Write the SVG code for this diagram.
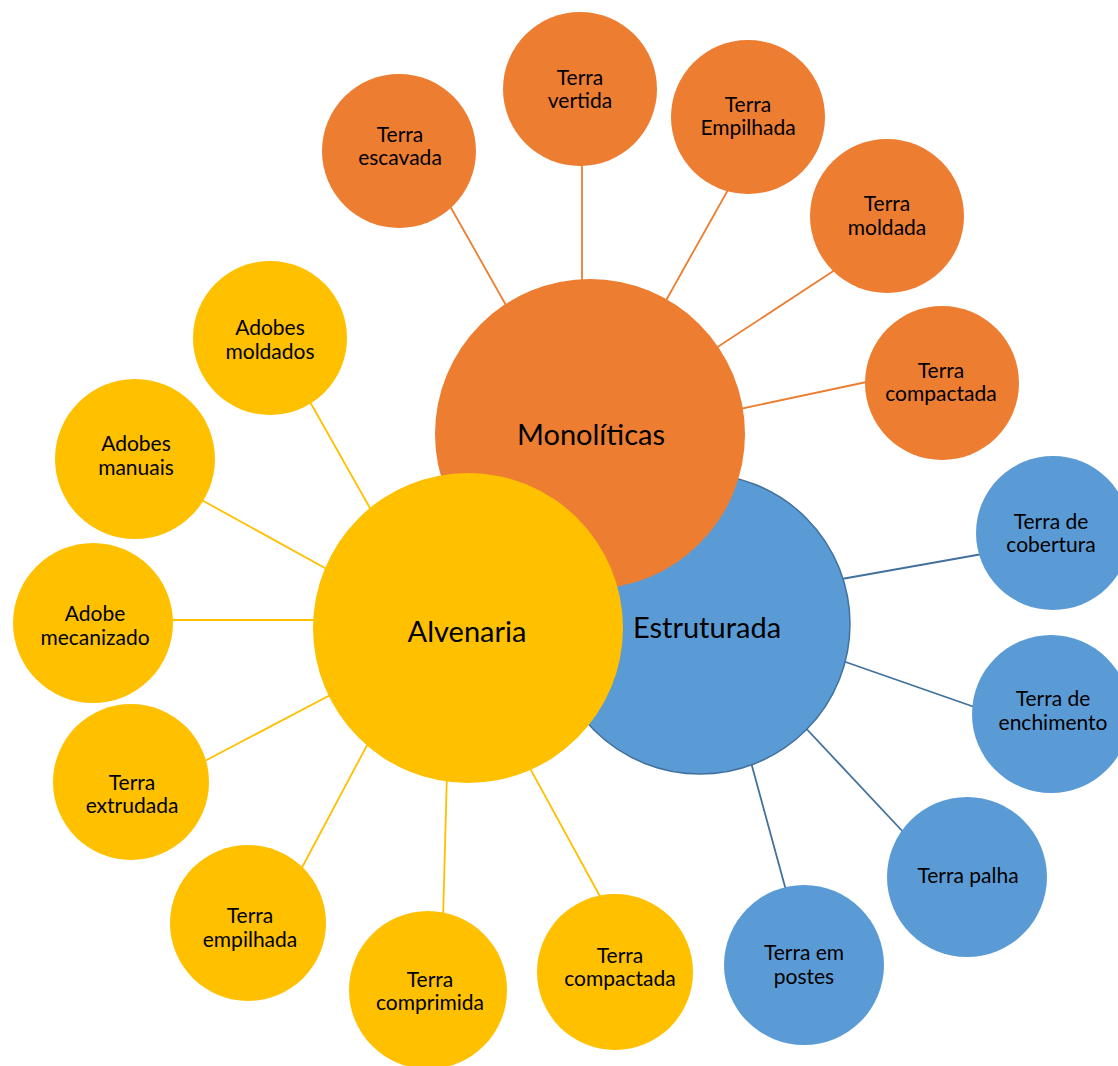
<svg xmlns="http://www.w3.org/2000/svg" width="1118" height="1066" viewBox="0 0 1118 1066">
  <style>
    .orange { fill: #ED7D31; }
    .yellow { fill: #FFC000; }
    .blue { fill: #5B9BD5; }
    .hub-blue { fill: #5B9BD5; stroke: #41719C; stroke-width: 1.5; }
    .lbl { font-family: Lato, "Open Sans", "Liberation Sans", sans-serif; font-size: 21px; fill: #000; text-anchor: middle; }
    .hub { font-family: Lato, "Open Sans", "Liberation Sans", sans-serif; font-size: 29px; fill: #000; text-anchor: middle; }
    .c-orange { stroke: #ED7D31; stroke-width: 1.8; }
    .c-yellow { stroke: #FFC000; stroke-width: 1.8; }
    .c-blue { stroke: #41719C; stroke-width: 1.8; }
  </style>
  <rect width="1118" height="1066" fill="#ffffff"/>

  <!-- spokes between hubs and leaf circles (ends tucked under the circles) -->
  <g id="connectors" fill="none">
    <line class="c-orange" x1="450" y1="206" x2="507" y2="307"/>
    <line class="c-orange" x1="582" y1="155" x2="582" y2="285"/>
    <line class="c-orange" x1="733" y1="181" x2="664" y2="304"/>
    <line class="c-orange" x1="841" y1="266" x2="713" y2="350"/>
    <line class="c-orange" x1="876" y1="380" x2="735" y2="410"/>

    <line class="c-yellow" x1="305" y1="393" x2="375" y2="517"/>
    <line class="c-yellow" x1="198" y1="498" x2="334" y2="573"/>
    <line class="c-yellow" x1="165" y1="620" x2="322" y2="620"/>
    <line class="c-yellow" x1="201" y1="763" x2="336" y2="692"/>
    <line class="c-yellow" x1="298" y1="875" x2="381" y2="719"/>
    <line class="c-yellow" x1="447" y1="772" x2="443" y2="920"/>
    <line class="c-yellow" x1="526" y1="761" x2="602" y2="900"/>

    <line class="c-blue" x1="836" y1="580" x2="988" y2="553"/>
    <line class="c-blue" x1="837" y1="659" x2="983" y2="710"/>
    <line class="c-blue" x1="801" y1="723" x2="906" y2="835"/>
    <line class="c-blue" x1="749" y1="755" x2="787" y2="894"/>
  </g>

  <!-- hubs: blue underneath, orange over it, yellow on top -->
  <g id="estruturada">
    <circle class="hub-blue" cx="700" cy="624" r="150"/>
    <text class="hub" x="707" y="638">Estruturada</text>
  </g>
  <g id="monoliticas">
    <circle class="orange" cx="590" cy="434" r="155"/>
    <text class="hub" x="591" y="445">Monolíticas</text>
  </g>
  <g id="alvenaria">
    <circle class="yellow" cx="468" cy="628" r="155"/>
    <text class="hub" x="467" y="642">Alvenaria</text>
  </g>

  <!-- Monolíticas leaves -->
  <g id="terra-escavada">
    <circle class="orange" cx="399" cy="151" r="77"/>
    <text class="lbl" x="400" y="142">Terra</text>
    <text class="lbl" x="400" y="165">escavada</text>
  </g>
  <g id="terra-vertida">
    <circle class="orange" cx="580" cy="89" r="77"/>
    <text class="lbl" x="580" y="85">Terra</text>
    <text class="lbl" x="580" y="108">vertida</text>
  </g>
  <g id="terra-empilhada-m">
    <circle class="orange" cx="748" cy="117" r="77"/>
    <text class="lbl" x="748" y="112">Terra</text>
    <text class="lbl" x="748" y="135">Empilhada</text>
  </g>
  <g id="terra-moldada">
    <circle class="orange" cx="887" cy="216" r="77"/>
    <text class="lbl" x="887" y="211">Terra</text>
    <text class="lbl" x="887" y="235">moldada</text>
  </g>
  <g id="terra-compactada-m">
    <circle class="orange" cx="942" cy="383" r="77"/>
    <text class="lbl" x="941" y="378">Terra</text>
    <text class="lbl" x="941" y="401">compactada</text>
  </g>

  <!-- Estruturada leaves -->
  <g id="terra-de-cobertura">
    <circle class="blue" cx="1053" cy="533" r="77"/>
    <text class="lbl" x="1051" y="529">Terra de</text>
    <text class="lbl" x="1051" y="552">cobertura</text>
  </g>
  <g id="terra-de-enchimento">
    <circle class="blue" cx="1051" cy="714" r="79"/>
    <text class="lbl" x="1053" y="706">Terra de</text>
    <text class="lbl" x="1053" y="730">enchimento</text>
  </g>
  <g id="terra-palha">
    <circle class="blue" cx="967" cy="877" r="80"/>
    <text class="lbl" x="968" y="883">Terra palha</text>
  </g>
  <g id="terra-em-postes">
    <circle class="blue" cx="804" cy="965" r="80"/>
    <text class="lbl" x="804" y="960">Terra em</text>
    <text class="lbl" x="804" y="984">postes</text>
  </g>

  <!-- Alvenaria leaves -->
  <g id="adobes-moldados">
    <circle class="yellow" cx="270" cy="338" r="77"/>
    <text class="lbl" x="270" y="335">Adobes</text>
    <text class="lbl" x="270" y="359">moldados</text>
  </g>
  <g id="adobes-manuais">
    <circle class="yellow" cx="135" cy="459" r="80"/>
    <text class="lbl" x="136" y="451">Adobes</text>
    <text class="lbl" x="136" y="475">manuais</text>
  </g>
  <g id="adobe-mecanizado">
    <circle class="yellow" cx="93" cy="623" r="80"/>
    <text class="lbl" x="95" y="621">Adobe</text>
    <text class="lbl" x="95" y="645">mecanizado</text>
  </g>
  <g id="terra-extrudada">
    <circle class="yellow" cx="131" cy="782" r="78"/>
    <text class="lbl" x="132" y="790">Terra</text>
    <text class="lbl" x="132" y="813">extrudada</text>
  </g>
  <g id="terra-empilhada-a">
    <circle class="yellow" cx="248" cy="923" r="78"/>
    <text class="lbl" x="250" y="923">Terra</text>
    <text class="lbl" x="250" y="947">empilhada</text>
  </g>
  <g id="terra-comprimida">
    <circle class="yellow" cx="428" cy="990" r="79"/>
    <text class="lbl" x="430" y="987">Terra</text>
    <text class="lbl" x="430" y="1010">comprimida</text>
  </g>
  <g id="terra-compactada-a">
    <circle class="yellow" cx="615" cy="972" r="78"/>
    <text class="lbl" x="620" y="963">Terra</text>
    <text class="lbl" x="620" y="986">compactada</text>
  </g>
</svg>
